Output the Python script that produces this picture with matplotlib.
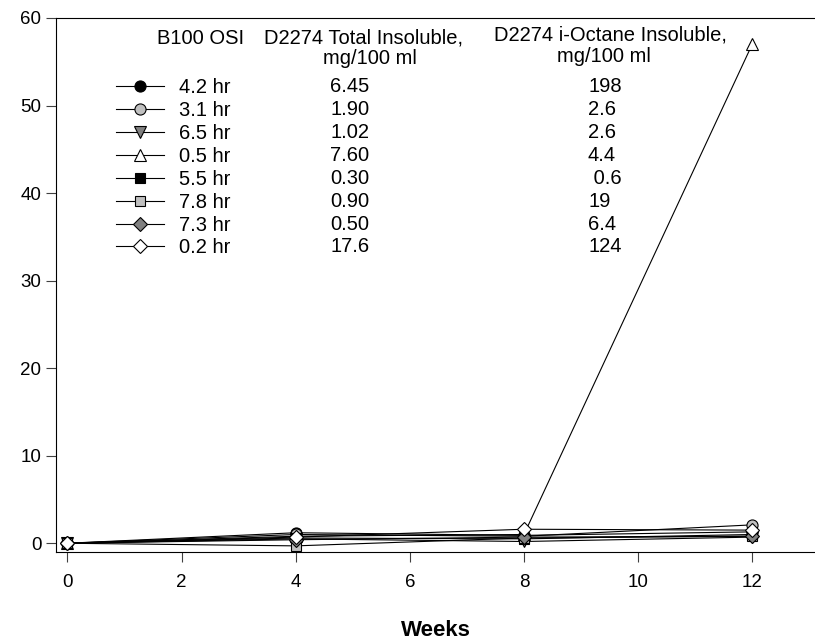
import matplotlib.pyplot as plt
import numpy as np

plt.rcParams['font.family'] = ['Liberation Sans', 'DejaVu Sans']

# dane
weeks = [0, 4, 8, 12]
osi_labels = ['4.2 hr', '3.1 hr', '6.5 hr', '0.5 hr', '5.5 hr', '7.8 hr', '7.3 hr', '0.2 hr']
total_insol = ['6.45', '1.90', '1.02', '7.60', '0.30', '0.90', '0.50', '17.6']
octane_insol = ['198', '2.6', '2.6', '4.4', ' 0.6', '19', '6.4', '124']

s_42 = [0, 1.2, 0.9, 1.3]
s_31 = [0, 1.0, 0.8, 2.1]
s_65 = [0, 0.5, 0.2, 0.7]
s_05 = [0, 0.8, 1.0, 57.0]
s_55 = [0, 0.6, 0.5, 1.0]
s_78 = [0, -0.3, 0.6, 0.8]
s_73 = [0, 0.4, 0.7, 0.8]
s_02 = [0, 0.7, 1.6, 1.5]

series = [s_42, s_31, s_65, s_05, s_55, s_78, s_73, s_02]
markers = ['o', 'o', 'v', '^', 's', 's', 'D', 'D']
faces = ['black', '#c0c0c0', '#808080', 'white', 'black', '#c0c0c0', '#808080', 'white']
sizes = [8, 8, 8, 8.5, 7.5, 7.5, 7, 7]

fig = plt.figure(figsize=(8.15, 6.4), dpi=100)
ax = fig.add_axes([56 / 815, 1 - 552 / 640, 1 - 56 / 815, (552 - 18) / 640])

for ys, m, fc, ms, lab in zip(series, markers, faces, sizes, osi_labels):
    ax.plot(weeks, ys, color='black', linewidth=0.8, marker=m, markersize=ms,
            markerfacecolor=fc, markeredgecolor='black', markeredgewidth=0.8, label=lab)

ax.set_xlim(-0.2, 13.1)
ax.set_ylim(-1, 60)
ax.set_xticks(np.arange(0, 13, 2))
ax.set_yticks(np.arange(0, 61, 10))
ax.spines['right'].set_visible(False)
ax.tick_params(direction='out', length=7, width=0.8, labelsize=13.5, color='#404040')
ax.tick_params(axis='x', pad=9)
ax.set_xlabel('Weeks', fontsize=16, fontweight='bold', labelpad=21)

leg = ax.legend(loc='upper left', bbox_to_anchor=(116 / 815, 1 - 78 / 640),
                bbox_transform=fig.transFigure, frameon=False, fontsize=14.5,
                handlelength=2.4, handletextpad=0.75, labelspacing=0.195,
                borderpad=0, borderaxespad=0)

# kolumny tabeli obok legendy
fs = 14.5
fig.text(201 / 815, 1 - 38 / 640, 'B100 OSI', ha='center', va='center', fontsize=fs)
fig.text(363 / 815, 1 - 38 / 640, 'D2274 Total Insoluble,', ha='center', va='center', fontsize=fs)
fig.text(370 / 815, 1 - 58 / 640, 'mg/100 ml', ha='center', va='center', fontsize=fs)
fig.text(610 / 815, 1 - 35 / 640, 'D2274 i-Octane Insoluble,', ha='center', va='center', fontsize=fs)
fig.text(604 / 815, 1 - 56 / 640, 'mg/100 ml', ha='center', va='center', fontsize=fs)

row_y = np.linspace(87, 247, len(osi_labels))
for py, t, o in zip(row_y, total_insol, octane_insol):
    fig.text(350 / 815, 1 - py / 640, t, ha='center', va='center', fontsize=fs)
    fig.text(588 / 815, 1 - py / 640, o, ha='left', va='center', fontsize=fs)

fig.savefig('out.png', dpi=100)
